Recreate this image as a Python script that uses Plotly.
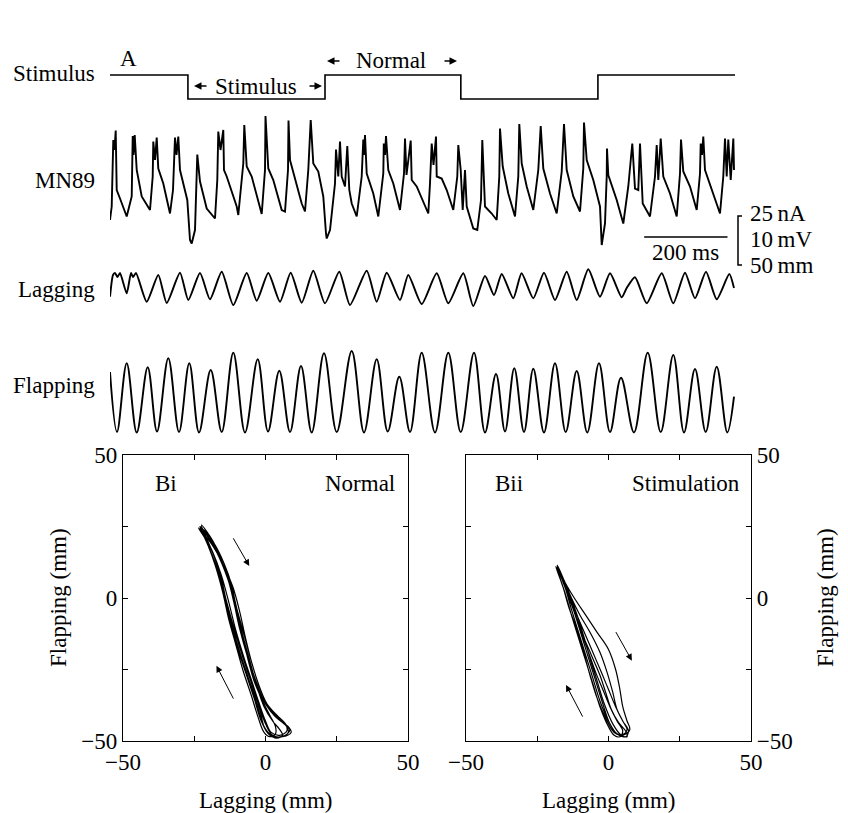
import plotly.graph_objects as go

# ---------------- Panel A : time traces (time in ms) ----------------
stim_t = [0, 187, 516, 842, 1171, 1500]
stim_i = [0, -12, 0, -12, 0, 0]          # injected current, nA

mn_t = [0, 4.1, 7.9, 10.8, 13.7, 16.1, 24, 40.1, 52.1, 54.5, 56.4, 59.3, 64.1, 76.1, 96,
        102.5, 103.9, 108, 112.1, 115.9, 127.9, 144, 151.2, 156, 159.6, 163.9, 168, 185.5, 192, 196.1,
        204, 208.1, 209.5, 216, 232.1, 252, 257.5, 259.9, 265.2, 271.9, 273.6, 280.1, 304.1, 307.9,
        319.9, 322.3, 328.1, 340.1, 360, 364.1, 372, 373.2, 379.9, 391.9, 412.1, 420, 427.2, 428.4,
        432, 448.1, 460.1, 468, 475.9, 481.7, 487.9, 499.9, 511.9, 518.4, 520.1, 528, 540, 542.4,
        547.9, 552, 556.1, 564, 569.5, 574.3, 580.1, 592.1, 604.1, 607.9, 609.6, 612, 616.1, 631.9,
        643.9, 655.9, 657.1, 660, 662.4, 667.9, 679.9, 696, 705.6, 708, 711.6, 721.7, 724.1, 736.1,
        756, 763.9, 768, 772.1, 776.4, 782.4, 784.1, 796.1, 808.1, 823.9, 833.5, 835.9, 841.7, 846.5,
        852, 856.1, 871.9, 881.5, 890.4, 893.5, 900, 916.1, 928.1, 934.3, 936, 942.5, 955.9, 972,
        979.9, 982.3, 988.1, 1000.1, 1015.9, 1027.9, 1033.7, 1039.9, 1056, 1072.1, 1084.1, 1089.6,
        1096.1, 1111.9, 1128, 1135.9, 1137.6, 1144.1, 1159.9, 1176, 1180.1, 1188, 1192.1, 1192.8,
        1195.9, 1216.1, 1231.9, 1243.9, 1253.5, 1260, 1267.9, 1272, 1278.5, 1296, 1308, 1312.1,
        1315.9, 1321.7, 1327.9, 1344, 1360.1, 1368, 1370.4, 1375.9, 1392, 1408.1, 1416, 1417.7,
        1420.8, 1423.9, 1428, 1447.9, 1464, 1471.9, 1476, 1480.1, 1483.9, 1489.7, 1496, 1497.6]
mn_v = [-8, -5.3, 8, 6, 9.9, -2, -3.7, -7.3, -3.3, 8.8, 5, 9, 2, -3.3, -6,
        0.7, 7.7, 4, 8.5, 2.3, -0.7, -6.7, -2, 8.5, 5, 8.7, 2, -4, -12, -12.7,
        -10, -0.7, 5.1, -0.3, -5.7, -7.7, 0, 9.7, 6, 10, 2, 0.7, -5.3, -7,
        3.3, 11, 2.7, 0.7, -5.3, -6.8, 2, 12.8, 2.3, 0, -6, -6.3, 2, 11.9,
        4, -0.7, -4.7, -6.3, 2, 12, 3.3, 1.7, -3.3, -10.7, -11.7, -10, -0.7, 6.1,
        0.7, 7.7, 0.7, -1.3, 6.8, -2, -4.7, -7.3, 0.7, 8.1, 5, 9, 1.3, -2.7,
        -7.3, 1.3, 7.3, 5, 8.8, 2, -0.7, -6, 1.3, 8.3, 1, 7.9, 0, -1.3,
        -5.3, -6.7, -0.7, 7.3, 3, 8.7, 0.7, 0.3, -2, -6, 0.7, 7, 2, -6,
        2, -5.3, -9.7, -10, -4, 8, -5.3, -6.7, -8, 0.7, 10.3, 2.7, -2.7, -7.3,
        0.7, 11.2, 3.3, -1.3, -6, 2, 10.8, 2.3, -2.7, -6.7, 1.7, 11.2,
        2, -3.3, -6.3, 2.3, 11.5, 4, 0, -5.3, -13, -8.7, 0.7, 6.3,
        1, -4, -8.7, -1.3, 7.3, -1.7, -2, 7.3, -4.7, -7.3, 0.7, 7,
        0, 8.3, 0.7, -2.7, -7.3, 1.3, 8.1, 1.7, -1.3, -6, 1.3, 7.3,
        5, 8.7, 2, -2.7, -6.7, 0.7, 8.3, 0.7, 8.1, 0, 8.3, 2]      # mV

lag_t = [0, 7.2, 12, 18, 24, 40.1, 50.4, 55.2, 62.4, 88.1, 115.9, 136.1, 168, 187.9, 216, 240,
         268.1, 295.9, 328.1, 352.1, 379.9, 408, 433.7, 460.1, 487.9, 516, 550.3, 576, 616.1,
         640.1, 664.1, 696, 715.9, 748.1, 784.1, 811.9, 847.9, 871.9, 900, 921.6, 940.1, 967.9,
         987.8, 1015.9, 1041.6, 1068, 1096.1, 1120.1, 1147.9, 1176, 1200, 1228.1, 1240.1, 1260,
         1288.1, 1324.1, 1351.9, 1380, 1404, 1430.4, 1456.1, 1486.3, 1497.6]
lag_v = [-8.7, 13, 15, 11, 15, -5.3, 15, 11, 15, -13.7, 13, -15, 15.3, -12, 15, -11.3,
         16.3, -17, 15, -12.7, 15, -13.7, 15.3, -14.7, 17.3, -15.3, 16.3, -17, 17.3,
         -13.7, 15.3, -12, 13, -16, 14.7, -15.3, 14.7, -18, 12, -7, 14, -10.3,
         14.7, -10.3, 15.3, -12, 16.3, -12, 18.7, -8.7, 14.7, -9.3, 0, 10.7,
         -15.3, 14.7, -15.3, 15.3, -10.3, 16.3, -11.3, 14, 0]          # mm

flap_t = [0, 16.8, 40.1, 64.1, 90.5, 112.8, 139.9, 165.6, 190.3, 213.6, 241.7, 268.1, 295.9,
          324, 354.5, 379.2, 406.3, 432, 458.4, 484.1, 513.6, 544.1, 580.1, 609.6, 640.1, 666.5,
          694.3, 720, 748.1, 780, 811.9, 841.7, 873.6, 900, 926.4, 948, 970.3, 993.6, 1015.9,
          1041.6, 1068, 1093.7, 1120.1, 1145.5, 1173.6, 1200, 1226.4, 1257.6, 1290.5, 1321.7,
          1351.9, 1377.6, 1404, 1429.7, 1456.1, 1481.5, 1497.6]
flap_v = [20, -40, 28.7, -40.5, 24.7, -39.5, 33.7, -40, 28.7, -40.5, 22, -40, 39.3,
          -40.5, 32.7, -39.5, 21.3, -40, 26, -40.5, 38.7, -40, 41, -40.5, 32.7, -39.5,
          15.3, -40, 39.3, -40.5, 39.3, -40, 39.3, -40.5, 18, -39.5, 23.7, -40, 23.3,
          -40.5, 28.7, -40, 21, -40.5, 28.7, -40, 14.3, -40.5, 39.3, -40,
          37, -40.5, 23, -40, 25.3, -40.5, -4.7]       # mm

# ---------------- Panel B : lagging vs flapping loops (mm) ----------------
bi_lag = [-23, -19, -15.5, -12.5, -10.5, -8.5, -6, -3, 0, 4, 8, 9, 6, 2, -1, -3, -6, -9, -12, -14, -16, -19,
          -22.5, -18.5, -15, -12, -10, -8, -5.5, -3, -0.5, 2.5, 5, 6, 4, 1, -1.5, -4, -7, -10, -12.5, -14.5, -16.5, -19.5,
          -23.5, -19, -15, -11.5, -9, -7, -5, -2.5, 0.5, 4, 7, 7.5, 5, 2, 0, -2.5, -5.5, -9, -12.5, -15, -17, -20,
          -22, -18, -14.5, -12, -10.5, -8.5, -6.5, -4, -1, 1.5, 3.5, 3.5, 1.5, -0.5, -2.5, -5, -8, -10.5, -13, -15, -17.5, -20,
          -23, -19.5, -16, -13, -11, -9, -6.5, -3.5, -0.5, 3, 6.5, 8.5, 7, 3.5, 0, -2, -4.5, -7.5, -10.5, -13, -15.5, -18.5,
          -23, -19, -15.5, -12.5, -10, -7.5, -5, -2.5, 0.5, 4.5, 7.5, 8, 5.5, 2.5, 0, -2.5, -5.5, -8.5, -11.5, -14, -16.5, -19.5, -23]
bi_flap = [25, 20, 13, 5, -3, -12, -21, -30, -37, -42, -45, -47, -48.5, -48, -44, -37, -28, -19, -9, 0, 9, 17,
           25.5, 20, 12, 4, -4, -13, -22, -31, -38, -43, -46, -48, -49, -47.5, -43, -35, -26, -17, -8, 1, 10, 18,
           24.5, 19, 12, 4, -5, -14, -22, -30, -37, -41, -44, -46.5, -48, -47, -43, -36, -27, -17, -7, 2, 10, 18,
           24, 19, 12, 5, -2, -11, -20, -29, -36, -41, -45, -47.5, -48.5, -47, -42, -34, -25, -16, -7, 2, 11, 18,
           25, 20.5, 14, 6, -2, -11, -20, -29, -36, -41, -44, -46, -48, -48.5, -46, -39, -30, -21, -11, -1, 8, 16,
           25, 19.5, 12.5, 4.5, -4, -13, -22, -30, -37, -42, -45, -47, -48.5, -48, -44, -37, -28, -19, -9, 0, 9, 17, 25]

bii_lag = [-18, -15, -12, -8, -4, 0, 2.5, 4, 5, 6.5, 7.5, 5, 2, -1, -4, -6.5, -9, -11.5, -14, -16,
           -18.5, -16, -14, -12, -9.5, -7, -4.5, -2, 0.5, 3, 5, 4, 2, 0, -3, -5.5, -8, -10.5, -13, -15, -17,
           -18, -15.5, -13, -10, -6.5, -3, -0.5, 1.5, 3, 5, 6.5, 5.5, 3, 0.5, -2, -4.5, -7, -9.5, -12, -14.5, -16.5,
           -17.5, -15.5, -13.5, -11.5, -9, -6, -3, -1, 1, 3.5, 6, 6.5, 4.5, 1.5, -1.5, -4, -6.5, -8.5, -11, -13.5, -16,
           -18, -16, -14, -11.5, -8.5, -5.5, -2.5, 0, 2.5, 5, 7, 6, 3, 0, -3, -5.5, -8, -10.5, -13, -15, -16.5, -18]
bii_flap = [11, 5, 0, -6, -12, -18, -25, -32, -38, -43, -46, -48, -47, -42, -35, -27, -18, -10, -3, 4,
            11, 6, 1, -5, -12, -19, -26, -32, -38, -43, -46.5, -48.5, -48, -45, -38, -30, -22, -14, -6, 1, 7,
            11.5, 6, 0, -6, -12, -19, -26, -33, -39, -43, -46, -47.5, -47.5, -44, -37, -29, -21, -13, -5, 2, 8,
            10.5, 5, 0, -6, -13, -20, -27, -33, -39, -43.5, -46.5, -48.5, -48, -44, -37, -29, -21, -14, -6, 1, 7,
            11, 6, 1, -5, -12, -19, -26, -32, -38, -43, -46.5, -48.5, -47.5, -43, -36, -28, -20, -12, -4, 3, 7, 11]

xy_tickvals = [-50, -25, 0, 25, 50]
xy_ticktext = ["\u221250", "", "0", "", "50"]

# ---------------- figure ----------------
# the page body has an 8 px margin, so the figure is 8 px smaller and coordinates are shifted
OFF = 8
W, H = 848 - OFF, 813 - OFF
FONT = "Liberation Serif"
FS = 23


def px(x):
    return (x - OFF) / W


def py(y):
    return 1 - (y - OFF) / H


fig = go.Figure()
fig.add_trace(go.Scatter(x=stim_t, y=stim_i, mode="lines", line=dict(color="black", width=1.6, shape="hv"),
                         xaxis="x", yaxis="y"))
fig.add_trace(go.Scatter(x=mn_t, y=mn_v, mode="lines", line=dict(color="black", width=1.9),
                         xaxis="x", yaxis="y2"))
fig.add_trace(go.Scatter(x=lag_t, y=lag_v, mode="lines", line=dict(color="black", width=1.9, shape="spline", smoothing=0.6),
                         xaxis="x", yaxis="y3"))
fig.add_trace(go.Scatter(x=flap_t, y=flap_v, mode="lines", line=dict(color="black", width=1.9, shape="spline", smoothing=1.0),
                         xaxis="x", yaxis="y4"))
fig.add_trace(go.Scatter(x=bi_lag, y=bi_flap, mode="lines", line=dict(color="black", width=1.2, shape="spline", smoothing=1.0),
                         xaxis="x2", yaxis="y5"))
fig.add_trace(go.Scatter(x=bii_lag, y=bii_flap, mode="lines", line=dict(color="black", width=1.2, shape="spline", smoothing=1.0),
                         xaxis="x3", yaxis="y6"))

hidden = dict(visible=False, fixedrange=True, automargin=False)
xy_axis = dict(range=[-50, 50], tickvals=xy_tickvals, ticktext=xy_ticktext, ticks="inside", ticklen=5,
               tickwidth=1.3, tickcolor="black", showline=True, linecolor="black", linewidth=1.3,
               mirror="ticks", showgrid=False, zeroline=False, automargin=False,
               tickfont=dict(family=FONT, size=FS, color="black"))

fig.update_layout(
    template="none",
    width=W, height=H, margin=dict(l=0, r=0, t=0, b=0, pad=0, autoexpand=False),
    paper_bgcolor="white", plot_bgcolor="rgba(0,0,0,0)", showlegend=False,
    font=dict(family=FONT, size=FS, color="black"),
    xaxis=dict(domain=[px(110), px(735)], range=[0, 1500], anchor="y", **hidden),
    yaxis=dict(domain=[py(110), py(60)], range=[-17.5, 7.5], anchor="x", **hidden),
    yaxis2=dict(domain=[py(250), py(110)], range=[-14, 14], anchor="x", **hidden),
    yaxis3=dict(domain=[py(320), py(255)], range=[-32, 33], anchor="x", **hidden),
    yaxis4=dict(domain=[py(440), py(340)], range=[-48, 52], anchor="x", **hidden),
    xaxis2=dict(domain=[px(123), px(408)], anchor="y5", **xy_axis),
    yaxis5=dict(domain=[py(741), py(455)], anchor="x2", **xy_axis),
    xaxis3=dict(domain=[px(466), px(751)], anchor="y6", **xy_axis),
    yaxis6=dict(domain=[py(741), py(455)], anchor="x3", side="right", **xy_axis),
)

ann = []


def txt(text, x, y, xref="paper", yref="paper", xanchor="center", angle=0):
    ann.append(dict(text=text, x=x, y=y, xref=xref, yref=yref, xanchor=xanchor, yanchor="middle",
                    showarrow=False, textangle=angle, font=dict(family=FONT, size=FS, color="black")))


def arrow(x, y, ax, ay, xref, yref, axref="pixel", ayref="pixel", w=1.5, size=1.0):
    ann.append(dict(text="", x=x, y=y, ax=ax, ay=ay, xref=xref, yref=yref, axref=axref, ayref=ayref,
                    showarrow=True, arrowhead=2, arrowsize=size, arrowwidth=w, arrowcolor="black", standoff=0))


# panel A labels
txt("A", px(128), py(58))
txt("Stimulus", px(97), py(74), xanchor="right")
txt("MN89", px(97), py(180), xanchor="right")
txt("Lagging", px(97), py(289), xanchor="right")
txt("Flapping", px(97), py(386), xanchor="right")

txt("Stimulus", 351.5, py(86), xref="x")
arrow(201.6, py(86), 14, 0, "x", "paper")
arrow(508.8, py(86), -14, 0, "x", "paper")
txt("Normal", 675, py(61), xref="x")
arrow(520.8, py(61), 14, 0, "x", "paper")
arrow(832.8, py(61), -14, 0, "x", "paper")

# scale bars
fig.add_shape(type="line", xref="x", yref="paper", x0=1282, x1=1482, y0=py(237), y1=py(237),
              line=dict(color="black", width=1.5))
txt("200 ms", 1382, py(252), xref="x")
fig.add_shape(type="path", xref="paper", yref="paper",
              path=f"M {px(742)} {py(216)} L {px(738)} {py(216)} L {px(738)} {py(265)} L {px(742)} {py(265)}",
              line=dict(color="black", width=1.5))
txt("25\u2009nA", px(748), py(214), xanchor="left")
txt("10\u2009mV", px(748), py(240), xanchor="left")
txt("50\u2009mm", px(748), py(265), xanchor="left")

# panel B labels
txt("Bi", -35, 40, xref="x2", yref="y5")
txt("Normal", 46, 40, xref="x2", yref="y5", xanchor="right")
txt("Bii", -35, 40, xref="x3", yref="y6")
txt("Stimulation", 47, 40, xref="x3", yref="y6", xanchor="right")
arrow(-5.7, 11.2, -11.6, 21.4, "x2", "y5", "x2", "y5", w=1.0, size=1.3)
arrow(-17.2, -23.7, -11, -35.7, "x2", "y5", "x2", "y5", w=1.0, size=1.3)
arrow(8.2, -21.9, 2.3, -11.4, "x3", "y6", "x3", "y6", w=1.0, size=1.3)
arrow(-14.9, -30.4, -8.8, -42, "x3", "y6", "x3", "y6", w=1.0, size=1.3)

txt("Flapping (mm)", px(58), py(598), angle=-90)
txt("Flapping (mm)", px(825), py(598), angle=-90)
txt("Lagging (mm)", px(266), py(800))
txt("Lagging (mm)", px(608.5), py(800))

fig.update_layout(annotations=ann)
fig.write_html("out.html")
